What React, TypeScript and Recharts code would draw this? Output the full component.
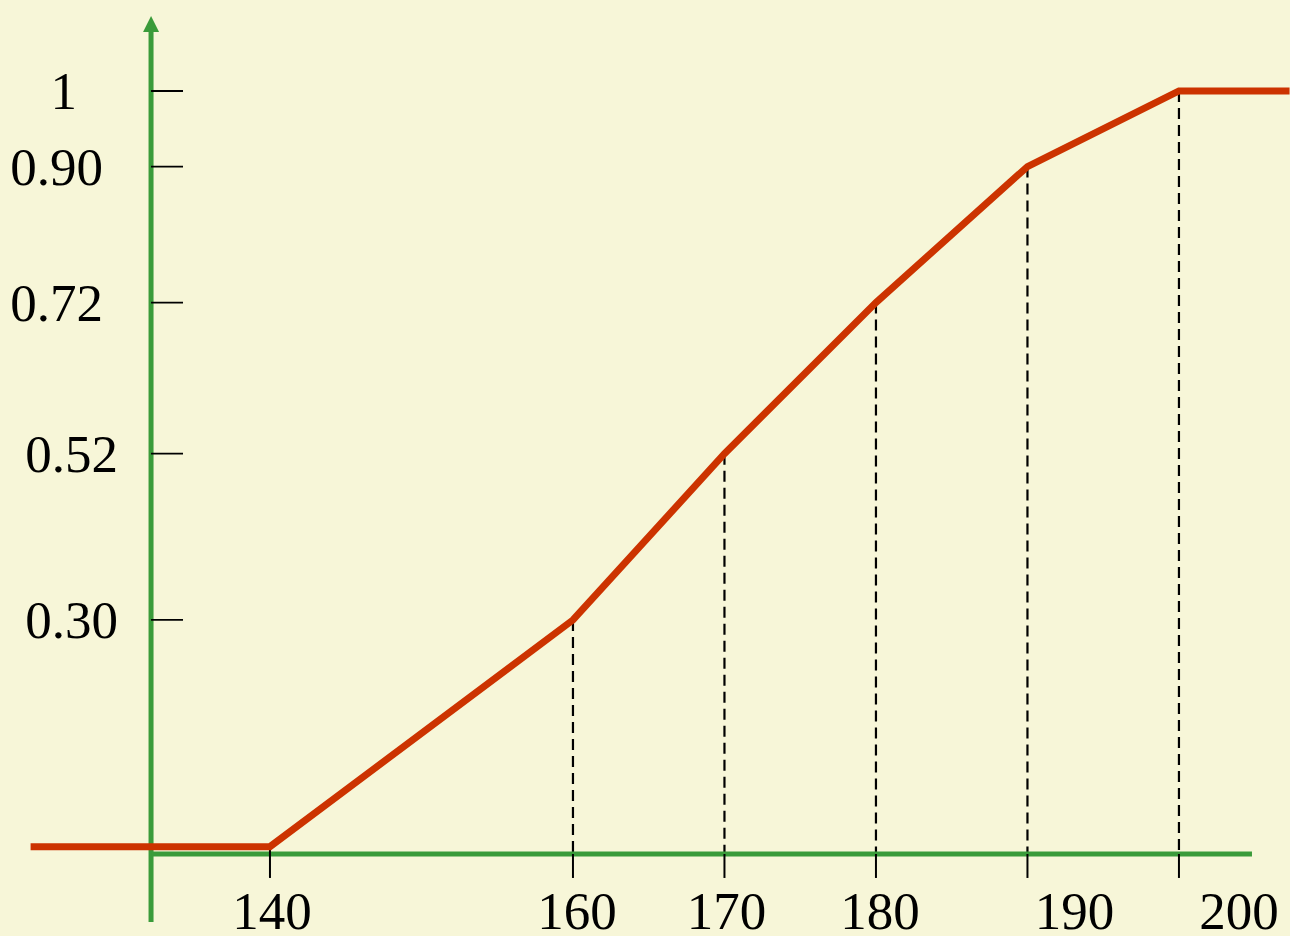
import { LineChart, Line, XAxis, YAxis, ReferenceLine, ReferenceDot } from "recharts";

// cumulative relative frequency by height (cm)
const heights = [124.2, 140, 160, 170, 180, 190, 200, 207.3];
const cumFreq = [0, 0, 0.3, 0.52, 0.72, 0.9, 1, 1];

const xTicks = [140, 160, 170, 180, 190, 200];
const xTickLabels = ["140", "160", "170", "180", "190", "200"];
const yTicks = [0.3, 0.52, 0.72, 0.9, 1];
const yTickLabels = ["0.30", "0.52", "0.72", "0.90", "1"];

// layout / style (kept apart from the data)
const W = 1290;
const H = 936;
const BG = "#F7F6D8";
const GREEN = "#3A9B3A";
const RED = "#CC3300";
const FONT = '"Liberation Serif", "Times New Roman", serif';
const FS = 53;
const X_DOMAIN: [number, number] = [122.18, 207.33];
const Y_DOMAIN: [number, number] = [-0.1182, 1.1204];
const AXIS_X = 132.15; // where the vertical axis stands
const AXIS_Y = -0.0097; // where the horizontal axis lies
const AXIS_X_END = 204.82;
const AXIS_Y_BOTTOM = -0.0996;
const AXIS_Y_TOP = 1.0781;
const Y_TICK_END = 134.26;
const X_TICK_BOTTOM = -0.0414;
const yLabelGap = [33, 33, 48, 48, 74];
const xLabelShift = [2, 4, 2, 4, 47, 60];

const data = heights.map((h, i) => ({ h, p: cumFreq[i] }));
const drops = data.filter((d) => xTicks.includes(d.h) && d.p > 0);

const XText = ({ viewBox, text, shift }: any) => {
  if (!viewBox) return null;
  const { x, y, width, height } = viewBox;
  return (
    <text
      x={x + width / 2 + shift}
      y={y + height + 51}
      textAnchor="middle"
      fontSize={FS}
      fontFamily={FONT}
      fill="#000"
    >
      {text}
    </text>
  );
};

const YText = ({ viewBox, text, gap }: any) => {
  if (!viewBox) return null;
  const { x, y, height } = viewBox;
  return (
    <text
      x={x - gap}
      y={y + height / 2 + 18}
      textAnchor="end"
      fontSize={FS}
      fontFamily={FONT}
      fill="#000"
    >
      {text}
    </text>
  );
};

const Arrow = ({ cx, cy }: any) => (
  <polygon points={`${cx - 8},${cy} ${cx + 8},${cy} ${cx},${cy - 16}`} fill={GREEN} />
);

export default function App() {
  return (
    <div style={{ position: "absolute", left: 0, top: 0, width: W, height: H, background: BG }}>
      <LineChart width={W} height={H} data={data} margin={{ top: 0, right: 0, bottom: 0, left: 0 }}>
        <XAxis dataKey="h" type="number" domain={X_DOMAIN} allowDataOverflow hide />
        <YAxis type="number" domain={Y_DOMAIN} allowDataOverflow hide />

        {/* dashed drop lines from each vertex to the axis */}
        {drops.map((d) => (
          <ReferenceLine
            key={`drop-${d.h}`}
            segment={[{ x: d.h, y: d.p }, { x: d.h, y: AXIS_Y }]}
            stroke="#000"
            strokeWidth={2.2}
            strokeDasharray="11 6"
          />
        ))}

        {/* axes */}
        <ReferenceLine
          segment={[{ x: AXIS_X, y: AXIS_Y_BOTTOM }, { x: AXIS_X, y: AXIS_Y_TOP }]}
          stroke={GREEN}
          strokeWidth={5}
        />
        <ReferenceLine
          segment={[{ x: AXIS_X, y: AXIS_Y }, { x: AXIS_X_END, y: AXIS_Y }]}
          stroke={GREEN}
          strokeWidth={5}
        />
        <ReferenceDot x={AXIS_X} y={AXIS_Y_TOP} shape={Arrow} />

        {/* x ticks + labels */}
        {xTicks.map((t, i) => (
          <ReferenceLine
            key={`xt-${t}`}
            segment={[{ x: t, y: i === 0 ? 0 : AXIS_Y }, { x: t, y: X_TICK_BOTTOM }]}
            stroke="#000"
            strokeWidth={2}
            label={(p: any) => <XText {...p} text={xTickLabels[i]} shift={xLabelShift[i]} />}
          />
        ))}

        {/* y ticks + labels */}
        {yTicks.map((t, i) => (
          <ReferenceLine
            key={`yt-${t}`}
            segment={[{ x: AXIS_X, y: t }, { x: Y_TICK_END, y: t }]}
            stroke="#000"
            strokeWidth={1.8}
            label={(p: any) => <YText {...p} text={yTickLabels[i]} gap={yLabelGap[i]} />}
          />
        ))}

        <Line
          type="linear"
          dataKey="p"
          stroke={RED}
          strokeWidth={7}
          dot={false}
          activeDot={false}
          isAnimationActive={false}
        />
      </LineChart>
    </div>
  );
}
